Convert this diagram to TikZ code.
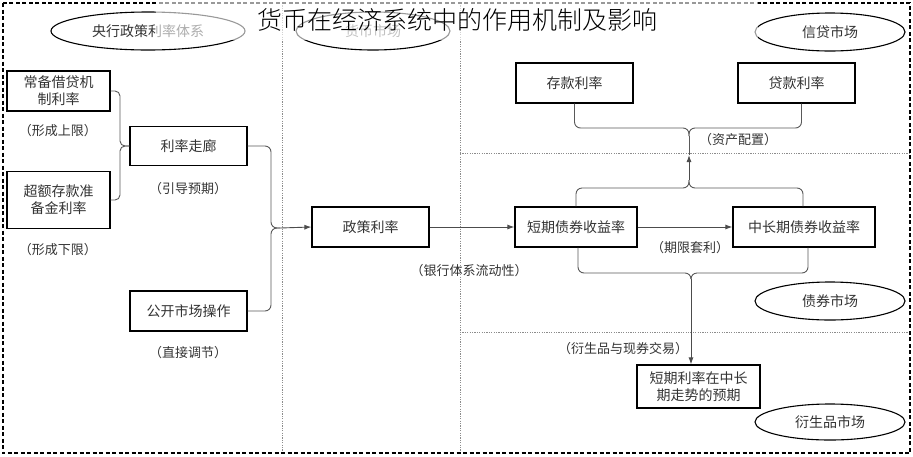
\documentclass[tikz,border=0pt]{standalone}
\usepackage{fontspec}
\setmainfont{Noto Sans CJK SC}
\newfontfamily\titlefont{Noto Sans CJK SC}[UprightFont=* Light]
\usetikzlibrary{arrows.meta,calc}
\begin{document}
\begin{tikzpicture}[x=1pt,y=-1pt,
  box/.style={draw=black,line width=1.2pt,fill=white,align=center,text=black!80,font=\fontsize{14}{17}\selectfont,inner sep=0pt},
  note/.style={text=black!80,font=\fontsize{13}{15}\selectfont,inner sep=1pt},
  ovaltext/.style={text=black!80,font=\fontsize{14}{16}\selectfont},
  conn/.style={draw=black!65,line width=0.9pt},
  arr/.style={draw=black!70,line width=0.9pt,-{Latex[length=7pt,width=5pt]}},
  sep/.style={draw=black!45,line width=0.7pt,dash pattern=on 1.2pt off 1.2pt}]
\useasboundingbox (0,0) rectangle (913,456);
\fill[white] (0,0) rectangle (913,456);
% separators
\draw[sep] (282,3) -- (282,453);
\draw[sep] (460,3) -- (460,453);
\draw[sep] (460,153) -- (910,153);
\draw[sep] (460,332) -- (910,332);
\draw[line width=1.2pt,dash pattern=on 4pt off 2.5pt] (3,3) rectangle (910,453);
% ellipses
\draw[line width=1.1pt] (148,31) ellipse [x radius=97,y radius=19];
\node[ovaltext] (e1) at (148,31) {央行政策利率体系};
\draw[line width=1.1pt] (373,31) ellipse [x radius=77,y radius=19];
\node[ovaltext,text=black!60] (e2) at (373,31) {货币市场};
\draw[line width=1.1pt] (830,32) ellipse [x radius=75,y radius=19];
\node[ovaltext] (e3) at (830,32) {信贷市场};
\draw[line width=1.1pt] (830,301) ellipse [x radius=75,y radius=19];
\node[ovaltext] (e4) at (830,301) {债券市场};
\draw[line width=1.1pt] (830,422) ellipse [x radius=75,y radius=18];
\node[ovaltext] (e5) at (830,422) {衍生品市场};
% boxes
\node[box,minimum width=103pt,minimum height=40pt] (cb) at (58.5,91) {常备借贷机\\制利率};
\node[box,minimum width=103pt,minimum height=57pt] (cx) at (58.5,200) {超额存款准\\备金利率};
\node[box,minimum width=117pt,minimum height=39pt] (lz) at (188.5,146) {利率走廊};
\node[box,minimum width=117pt,minimum height=40pt] (gs) at (188.5,311) {公开市场操作};
\node[box,minimum width=117pt,minimum height=40pt] (zc) at (370.5,227) {政策利率};
\node[box,minimum width=122pt,minimum height=40pt] (sd) at (576,227) {短期债券收益率};
\node[box,minimum width=142pt,minimum height=40pt] (zl) at (804,227) {中长期债券收益率};
\node[box,minimum width=117pt,minimum height=40pt] (ck) at (574.5,83) {存款利率};
\node[box,minimum width=117pt,minimum height=40pt] (dk) at (796.5,83) {贷款利率};
\node[box,minimum width=123pt,minimum height=43pt] (yq) at (698.5,386.5) {短期利率在中长\\期走势的预期};
% notes
\node[note] (n1) at (58,131) {（形成上限）};
\node[note] (n2) at (58,250) {（形成下限）};
\node[note] (n3) at (188,189) {（引导预期）};
\node[note] (n4) at (188,353) {（直接调节）};
\node[note] (n5) at (469,271) {（银行体系流动性）};
\node[note] (n6) at (690,248) {（期限套利）};
\node[note] (n7) at (738,140) {（资产配置）};
\node[note] (n8) at (623,349) {（衍生品与现券交易）};
% coordinates
\coordinate (b1) at (120,146);
\coordinate (b2) at (280,228);
\coordinate (t1) at (689,180);
\coordinate (t2) at (689,155);
\coordinate (t3) at (689,136);
\coordinate (b3) at (691,279);
% connectors
\draw[conn,rounded corners=5] (cb.east) -| (b1) -- (lz.west);
\draw[conn,rounded corners=5] (cx.east) -| (b1) -- (lz.west);
\draw[conn,rounded corners=6] (lz.east) -| ($(b2)+(-9,0)$) -- (b2);
\draw[conn,rounded corners=6] (gs.east) -| ($(b2)+(-9,0)$) -- (b2);
\draw[arr] (b2) -- (zc.west);
\draw[arr] (zc.east) -- (sd.west);
\draw[arr] (sd.east) -- (zl.west);
\draw[conn,rounded corners=6] (sd.north) |- ($(t1)+(0,8)$) -- (t1);
\draw[conn,rounded corners=6] ([xshift=-1pt]zl.north) |- ($(t1)+(0,8)$) -- (t1);
\draw[arr] (t1) -- (t2);
\draw[conn] (t2) -- (t3);
\draw[conn,rounded corners=6] (ck.south) |- ($(t3)+(0,-8)$) -- (t3);
\draw[conn,rounded corners=6] ([xshift=5pt]dk.south) |- ($(t3)+(0,-8)$) -- (t3);
\draw[conn,rounded corners=6] ([xshift=2pt]sd.south) |- ($(b3)+(0,-6)$) -- (b3);
\draw[conn,rounded corners=6] ([xshift=4pt]zl.south) |- ($(b3)+(0,-6)$) -- (b3);
\draw[arr] (b3) -- (b3 |- yq.north);
% fade behind title
\fill[white,opacity=0.6] (156,0) rectangle (758,40);
\node[text=black,font=\titlefont\fontsize{25}{28}\selectfont] (title) at (457,20) {货币在经济系统中的作用机制及影响};
\end{tikzpicture}
\end{document}
